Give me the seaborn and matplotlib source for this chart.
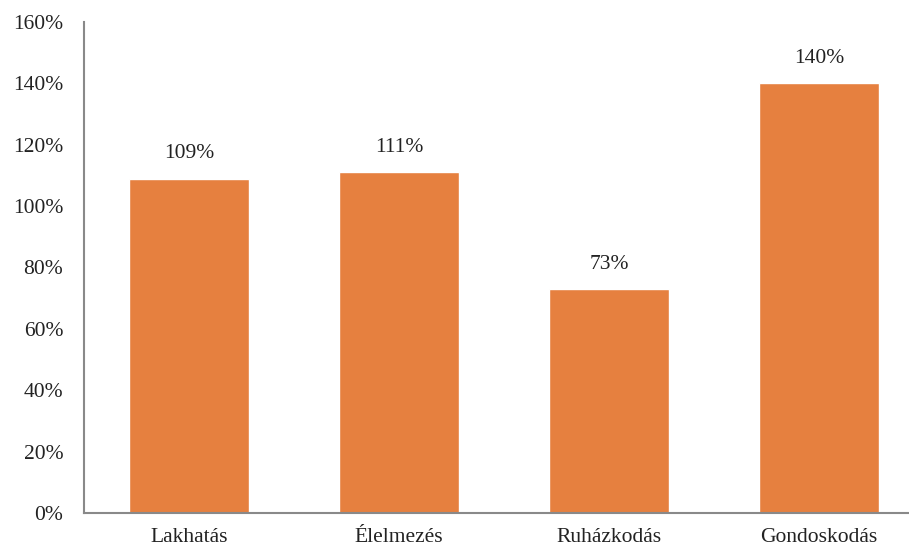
import matplotlib
matplotlib.use('Agg')
import matplotlib.pyplot as plt
import seaborn as sns
import pandas as pd

categories = ['Lakhatás', 'Élelmezés', 'Ruházkodás', 'Gondoskodás']
values = [109, 111, 73, 140]
y_ticks = [0, 20, 40, 60, 80, 100, 120, 140, 160]

sns.set_style('white')
plt.rcParams['font.family'] = ['Liberation Serif', 'DejaVu Serif']

df = pd.DataFrame({'cat': categories, 'val': values})

fig = plt.figure(figsize=(9.09, 5.49), dpi=100)
ax = fig.add_axes([84 / 909, 36 / 549, 840 / 909, 491 / 549])

sns.barplot(data=df, x='cat', y='val', color='#E6803F', saturation=1, width=0.571, ax=ax)

for i, v in enumerate(values):
    ax.annotate(f'{v}%', (i, v), xytext=(0, 11), textcoords='offset points',
                ha='center', va='bottom', fontsize=15.5, color='#222222')

ax.set_xlim(-0.5, 3.5)
ax.set_ylim(0, 160)
ax.set_yticks(y_ticks)
ax.set_yticklabels([f'{t}%' for t in y_ticks], fontsize=15.5, color='#222222')
ax.tick_params(axis='x', labelsize=15.5, labelcolor='#222222', length=0, pad=11)
ax.tick_params(axis='y', length=0, pad=15)
ax.set_xlabel('')
ax.set_ylabel('')

for s in ['top', 'right']:
    ax.spines[s].set_visible(False)
for s in ['left', 'bottom']:
    ax.spines[s].set_color('#898989')
    ax.spines[s].set_linewidth(1.5)

fig.savefig('out.png', dpi=100)
